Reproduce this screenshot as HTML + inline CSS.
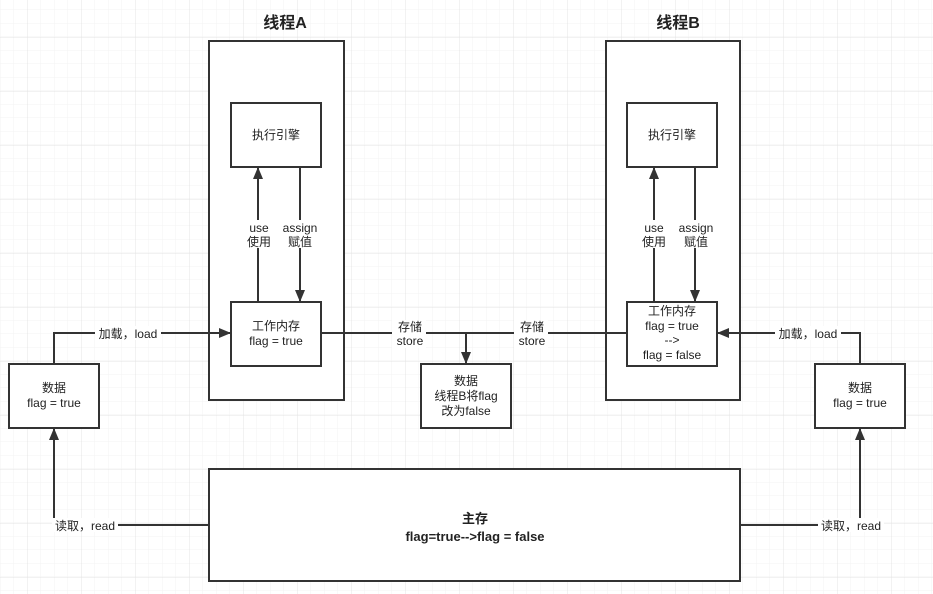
<!DOCTYPE html>
<html><head><meta charset="utf-8"><style>
body{margin:0;background:#fff;}
svg{display:block;font-family:"Liberation Sans","Noto Sans CJK SC",sans-serif;}
</style></head><body>
<svg width="933" height="594" viewBox="0 0 933 594" xmlns="http://www.w3.org/2000/svg">
<defs>
<pattern id="minor" x="0.5" y="10" width="13.5" height="13.5" patternUnits="userSpaceOnUse">
<path d="M13.5 0V13.5M0 13.5H13.5" stroke="#f3f3f3" stroke-width="1" fill="none"/>
</pattern>
<pattern id="major" x="27" y="37" width="54" height="54" patternUnits="userSpaceOnUse">
<path d="M0 0V54M0 0H54" stroke="#e4e4e4" stroke-width="1" fill="none"/>
</pattern>
<marker id="ar" viewBox="0 0 12 12" refX="11" refY="6" markerWidth="12" markerHeight="12" orient="auto" markerUnits="userSpaceOnUse">
<path d="M0 1L12 6L0 11Z" fill="#333"/>
</marker>
</defs>
<rect width="933" height="594" fill="url(#minor)"/>
<rect width="933" height="594" fill="url(#major)"/>
<g stroke="#333" stroke-width="2" fill="#fff">
<rect x="209" y="41" width="135" height="359"/>
<rect x="606" y="41" width="134" height="359"/>
<rect x="231" y="103" width="90" height="64"/>
<rect x="231" y="302" width="90" height="64"/>
<rect x="627" y="103" width="90" height="64"/>
<rect x="627" y="302" width="90" height="64"/>
<rect x="9" y="364" width="90" height="64"/>
<rect x="815" y="364" width="90" height="64"/>
<rect x="421" y="364" width="90" height="64"/>
<rect x="209" y="469" width="531" height="112"/>
</g>
<g stroke="#333" stroke-width="2" fill="none">
<path d="M258 302V168" marker-end="url(#ar)"/>
<path d="M300 167V301" marker-end="url(#ar)"/>
<path d="M654 302V168" marker-end="url(#ar)"/>
<path d="M695 167V301" marker-end="url(#ar)"/>
<path d="M54 364V333H230" marker-end="url(#ar)"/>
<path d="M860 364V333H718" marker-end="url(#ar)"/>
<path d="M321 333H627"/>
<path d="M466 333V363" marker-end="url(#ar)"/>
<path d="M209 525H54V429" marker-end="url(#ar)"/>
<path d="M740 525H860V429" marker-end="url(#ar)"/>
</g>
<g fill="#fff">
<rect x="250" y="220" width="18" height="28"/>
<rect x="282" y="220" width="36" height="28"/>
<rect x="644" y="220" width="20" height="28"/>
<rect x="678" y="220" width="36" height="28"/>
<rect x="392" y="320" width="34" height="28"/>
<rect x="514" y="320" width="34" height="28"/>
<rect x="95" y="326" width="66" height="14"/>
<rect x="775" y="326" width="66" height="14"/>
<rect x="52" y="518" width="66" height="14"/>
<rect x="818" y="518" width="66" height="14"/>
</g>
<g font-size="12" fill="#222" text-anchor="middle">
<text x="285" y="28" font-size="16" font-weight="bold">线程A</text>
<text x="678" y="28" font-size="16" font-weight="bold">线程B</text>
<text x="276" y="139">执行引擎</text>
<text x="672" y="139">执行引擎</text>
<text x="276" y="330">工作内存</text>
<text x="276" y="345">flag = true</text>
<text x="672" y="315">工作内存</text>
<text x="672" y="330">flag = true</text>
<text x="672" y="344">--&gt;</text>
<text x="672" y="359">flag = false</text>
<text x="259" y="232">use</text>
<text x="259" y="246">使用</text>
<text x="300" y="232">assign</text>
<text x="300" y="246">赋值</text>
<text x="654" y="232">use</text>
<text x="654" y="246">使用</text>
<text x="696" y="232">assign</text>
<text x="696" y="246">赋值</text>
<text x="410" y="331">存储</text>
<text x="410" y="345">store</text>
<text x="532" y="331">存储</text>
<text x="532" y="345">store</text>
<text x="128" y="338">加载，load</text>
<text x="808" y="338">加载，load</text>
<text x="85" y="530">读取，read</text>
<text x="851" y="530">读取，read</text>
<text x="54" y="392">数据</text>
<text x="54" y="407">flag = true</text>
<text x="860" y="392">数据</text>
<text x="860" y="407">flag = true</text>
<text x="466" y="385">数据</text>
<text x="466" y="400">线程B将flag</text>
<text x="466" y="415">改为false</text>
<text x="475" y="523" font-size="13" font-weight="bold">主存</text>
<text x="475" y="541" font-size="13" font-weight="bold">flag=true--&gt;flag = false</text>
</g>
</svg>
</body></html>
